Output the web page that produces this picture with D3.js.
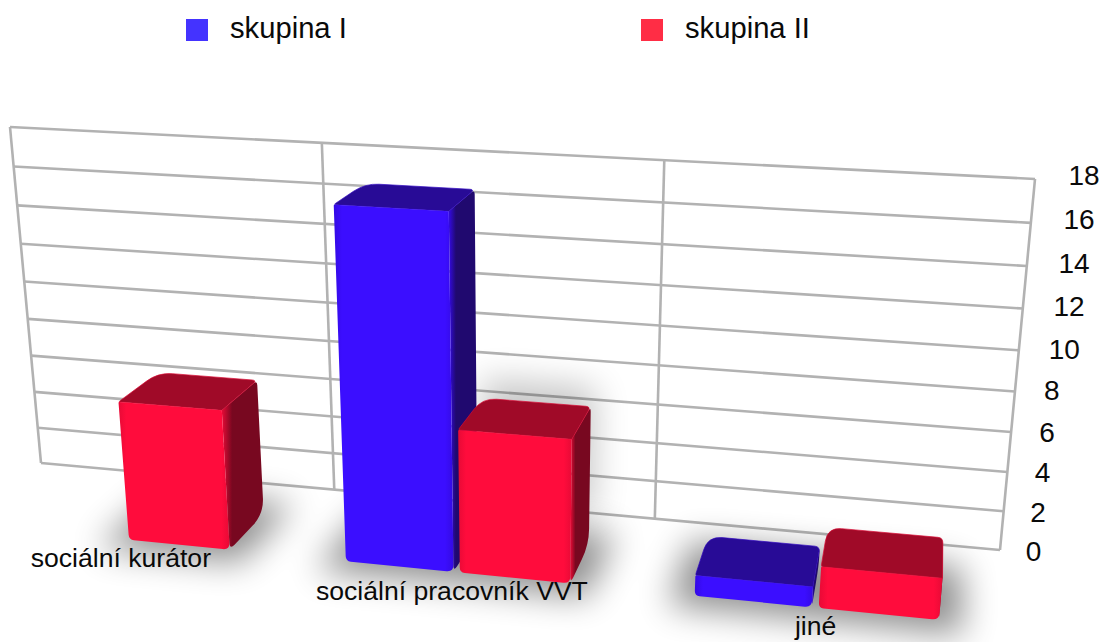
<!DOCTYPE html>
<html><head><meta charset="utf-8">
<script src="https://cdn.jsdelivr.net/npm/d3@7"></script>
<style>html,body{margin:0;padding:0;background:#fff}svg{display:block}text{font-family:"Liberation Sans",Arial,sans-serif;fill:#0a0a0a}</style>
</head><body><svg id="c" width="1103" height="642"></svg>
<script>
const categories = ["sociální kurátor", "sociální pracovník VVT", "jiné"];
const seriesNames = ["skupina I", "skupina II"];
const seriesI = [0, 17, 1];
const seriesII = [7, 7, 2];
const valueTicks = [0, 2, 4, 6, 8, 10, 12, 14, 16, 18];

const W = 1103, H = 642;
const svg = d3.select("#c");

// perspective model of the chart box
const wall = { p00: [41, 463], p10: [1000, 550], p11: [1035, 179], p01: [10, 127] };
const depthVP = [950, -210];
const zFront = 0.082, zBack = 0.038;
const barW = 0.103, barGap = 0.006;
const groupNudge = [0.006, 0.002, -0.001];
const groupScale = [1, 1.015, 1.02];
const dividerNudge = [0, -0.004, -0.002, 0];

const hom = (() => {
  const { p00, p10, p11, p01 } = wall;
  const dx1 = p10[0] - p11[0], dx2 = p01[0] - p11[0], sx = p00[0] - p10[0] + p11[0] - p01[0];
  const dy1 = p10[1] - p11[1], dy2 = p01[1] - p11[1], sy = p00[1] - p10[1] + p11[1] - p01[1];
  const den = dx1 * dy2 - dx2 * dy1;
  const g = (sx * dy2 - dx2 * sy) / den, h = (dx1 * sy - sx * dy1) / den;
  return { g, h,
    a: p10[0] * (1 + g) - p00[0], b: p01[0] * (1 + h) - p00[0], c: p00[0],
    d: p10[1] * (1 + g) - p00[1], e: p01[1] * (1 + h) - p00[1], f: p00[1] };
})();
function project(u, v, z) {
  const w = 1 + hom.g * u + hom.h * v - z;
  return [(hom.a * u + hom.b * v + hom.c - depthVP[0] * z) / w,
          (hom.d * u + hom.e * v + hom.f - depthVP[1] * z) / w];
}

const y = d3.scaleLinear().domain([0, 18]).range([0, 1]);
const xBand = d3.scaleBand().domain(categories).range([0, 1]);
const xSub = d3.scaleBand().domain(seriesNames).range([0, 2 * barW + barGap]).paddingInner(barGap / (barW + barGap));

const palette = {
  "skupina I":  { legend: "#4433ff", front: "#3b0eff", frontEdge: "#340ae4", top: "#280b96", rim:"#3008c0", side: "#20096f" },
  "skupina II": { legend: "#ff2d45", front: "#ff0c3c", frontEdge: "#e80a36", top: "#a00a28", rim:"#d80a34", side: "#780820" }
};

function rounded(pts, radii) {
  const p = d3.path(), n = pts.length;
  const trim = (a, b, r) => {
    const dx = b[0] - a[0], dy = b[1] - a[1], L = Math.hypot(dx, dy), t = Math.min(r, L * 0.48) / L;
    return [a[0] + dx * t, a[1] + dy * t];
  };
  pts.forEach((c, i) => {
    const prev = pts[(i + n - 1) % n], next = pts[(i + 1) % n], r = radii[i];
    const s = trim(c, prev, r), e = trim(c, next, r);
    if (i === 0) p.moveTo(s[0], s[1]); else p.lineTo(s[0], s[1]);
    p.quadraticCurveTo(c[0], c[1], e[0], e[1]);
  });
  p.closePath();
  return p.toString();
}

// defs
const defs = svg.append("defs");
defs.append("filter").attr("id", "blur").attr("x", "-80%").attr("y", "-80%").attr("width", "260%").attr("height", "260%")
  .append("feGaussianBlur").attr("stdDeviation", 17);
seriesNames.forEach((name, i) => {
  const c = palette[name];
  const f = defs.append("linearGradient").attr("id", "front" + i);
  [[0, c.frontEdge], [0.07, c.front], [0.93, c.front], [1, c.frontEdge]].forEach(s =>
    f.append("stop").attr("offset", s[0]).attr("stop-color", s[1]));
  const g = defs.append("linearGradient").attr("id", "side" + i);
  [[0, c.frontEdge], [0.25, c.side], [1, c.side]].forEach(s =>
    g.append("stop").attr("offset", s[0]).attr("stop-color", s[1]));
});

// wall grid
const grid = svg.append("g").attr("fill", "none").attr("stroke", "#b2b2b2").attr("stroke-width", 2.6).attr("stroke-linejoin", "miter");
const line = d3.line();
valueTicks.forEach(t => grid.append("path").attr("d", line([project(0, y(t), 0), project(1, y(t), 0)])));
[0, ...categories.map(c => xBand(c) + xBand.bandwidth())].forEach((u, i) =>
  grid.append("path").attr("d", line([project(u + dividerNudge[i], 0, 0), project(u + dividerNudge[i], 1, 0)])));

// bars list
const bars = [];
categories.forEach((cat, ci) => {
  [seriesI, seriesII].forEach((vals, si) => {
    const v = vals[ci];
    if (!v) return;
    const name = seriesNames[si];
    const centre = xBand(cat) + xBand.bandwidth() / 2 + groupNudge[ci];
    const k = groupScale[ci];
    const u0 = centre + (xSub(name) - barW) * k;
    bars.push({ name, si, ci, v: y(v), u0, u1: u0 + xSub.bandwidth() * k });
  });
});

// soft shadows
const shadow = svg.append("g").attr("filter", "url(#blur)").attr("fill", "#000").attr("opacity", 0.44);
bars.forEach(b => {
  const m = 0.02;
  shadow.append("path").attr("d", line([
    project(b.u0 - m, 0, zFront + 0.012), project(b.u1 + m, 0, zFront + 0.012),
    project(b.u1 + m, 0, zBack - 0.015), project(b.u0 - m, 0, zBack - 0.015)]) + "Z");
});
// shadow thrown back on to the wall behind the second group
const shadowWall = svg.append("g").attr("filter", "url(#blur)").attr("fill", "#000").attr("opacity", 0.22);
bars.filter(b => b.ci === 1 && b.si === 1).forEach(b => {
  shadowWall.append("path").attr("d", line([
    project(b.u0 - 0.02, b.v * 0.95, 0), project(b.u1 - 0.01, b.v * 0.95, 0),
    project(b.u1 - 0.01, 0, 0), project(b.u0 - 0.02, 0, 0)]) + "Z");
});

// bars
const gBars = svg.append("g");
bars.forEach(b => {
  const c = palette[b.name], v = b.v;
  const g = gBars.append("g");
  g.append("path").attr("fill", `url(#side${b.si})`).attr("d", rounded([
    project(b.u1, v, zFront), project(b.u1, v, zBack), project(b.u1, 0, zBack), project(b.u1, 0, zFront)], [0, 5, 16, 7]));
  g.append("path").attr("fill", c.top).attr("stroke", c.rim).attr("stroke-width", 0.7).attr("d", rounded([
    project(b.u0, v, zFront), project(b.u1, v, zFront), project(b.u1, v, zBack), project(b.u0, v, zBack)], [2, 0, 5, 14]));
  g.append("path").attr("fill", `url(#front${b.si})`).attr("d", rounded([
    project(b.u0, v, zFront), project(b.u1, v, zFront), project(b.u1, 0, zFront), project(b.u0, 0, zFront)], [1, 0, 7, 5]));
});

// value labels
svg.append("g").selectAll("text").data(valueTicks).join("text")
  .attr("font-size", 28).attr("text-anchor", "start")
  .attr("x", d => project(1.024 + 0.005 * y(d), y(d), 0)[0])
  .attr("y", d => project(1.024 + 0.005 * y(d), y(d), 0)[1] + 9 - 5 * y(d))
  .text(d => d);

// category labels
svg.append("g").selectAll("text").data(categories).join("text")
  .attr("font-size", 26.6).attr("text-anchor", "middle")
  .attr("x", (d, i) => project(xBand(d) + xBand.bandwidth() / 2 + [0.003, 0, 0.002][i], 0, zFront)[0] + 0.5)
  .attr("y", (d, i) => project(xBand(d) + xBand.bandwidth() / 2, 0, zFront)[1] + 28)
  .text(d => d);

// legend
const legendX = d3.scaleOrdinal().domain(seriesNames).range([186, 641]);
const lg = svg.append("g").selectAll("g").data(seriesNames).join("g");
lg.append("rect").attr("x", d => legendX(d)).attr("y", 19).attr("width", 22).attr("height", 22).attr("fill", d => palette[d].legend);
lg.append("text").attr("x", d => legendX(d) + 44).attr("y", 38).attr("font-size", 29.2).text(d => d);
</script></body></html>
